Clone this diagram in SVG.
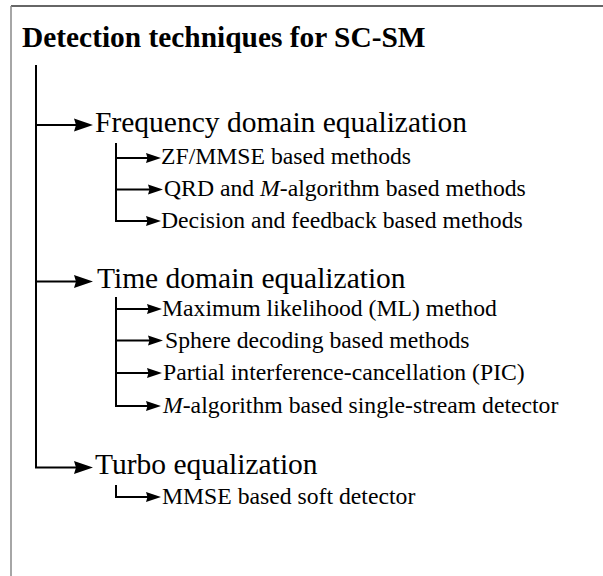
<svg xmlns="http://www.w3.org/2000/svg" width="603" height="576" viewBox="0 0 603 576">
  <style>
    text { font-family: "Liberation Serif", "Times New Roman", serif; fill: #000; }
    .title { font-weight: bold; font-size: 29.4px; }
    .main { font-size: 29.5px; }
    .sub { font-size: 23.7px; }
    .it { font-style: italic; }
    .wire { fill: none; stroke: #000; stroke-width: 2; }
    .head { fill: #000; stroke: none; }
  </style>

  <rect width="603" height="576" fill="#fff"/>

  <!-- frame -->
  <g id="frame">
    <line x1="11" y1="6" x2="603" y2="6" stroke="#333" stroke-width="1.5"/>
    <line x1="11" y1="6" x2="11" y2="576" stroke="#888" stroke-width="1.5"/>
  </g>

  <!-- connectors: wires plus filled arrowheads -->
  <g id="connectors">
    <g class="wire">
      <path d="M36,65 V467.5 H78"/>
      <path d="M36,125 H78"/>
      <path d="M36,281.5 H78"/>
      <path d="M116,143 V221 H148"/>
      <path d="M116,158 H148"/>
      <path d="M116,189.5 H150"/>
      <path d="M116,297 V406 H148"/>
      <path d="M116,309 H149"/>
      <path d="M116,340.5 H150"/>
      <path d="M116,373 H149"/>
      <path d="M116,485 V497 H148"/>
    </g>
    <g class="head">
      <path d="M93,125 l-19,-6.5 l2,6.5 l-2,6.5 Z"/>
      <path d="M93,281.5 l-19,-6.5 l2,6.5 l-2,6.5 Z"/>
      <path d="M93,467.5 l-19,-6.5 l2,6.5 l-2,6.5 Z"/>
      <path d="M161,158 l-15,-5 l1.5,5 l-1.5,5 Z"/>
      <path d="M163,189.5 l-15,-5 l1.5,5 l-1.5,5 Z"/>
      <path d="M161,221 l-15,-5 l1.5,5 l-1.5,5 Z"/>
      <path d="M162,309 l-15,-5 l1.5,5 l-1.5,5 Z"/>
      <path d="M163,340.5 l-15,-5 l1.5,5 l-1.5,5 Z"/>
      <path d="M162,373 l-15,-5 l1.5,5 l-1.5,5 Z"/>
      <path d="M161,406 l-15,-5 l1.5,5 l-1.5,5 Z"/>
      <path d="M161,497 l-15,-5 l1.5,5 l-1.5,5 Z"/>
    </g>
  </g>

  <g id="root"><text class="title" x="22" y="46.5">Detection techniques for SC-SM</text></g>

  <g id="fde"><text class="main" x="95" y="132">Frequency domain equalization</text></g>
  <g id="fde-zf"><text class="sub" x="161" y="164">ZF/MMSE based methods</text></g>
  <g id="fde-qrd"><text class="sub" x="164" y="195.5">QRD and <tspan class="it">M</tspan>-algorithm based methods</text></g>
  <g id="fde-dfe"><text class="sub" x="161" y="227.5">Decision and feedback based methods</text></g>

  <g id="tde"><text class="main" x="97" y="288">Time domain equalization</text></g>
  <g id="tde-ml"><text class="sub" x="162" y="316">Maximum likelihood (ML) method</text></g>
  <g id="tde-sd"><text class="sub" x="165" y="347.5">Sphere decoding based methods</text></g>
  <g id="tde-pic"><text class="sub" x="163" y="380">Partial interference-cancellation (PIC)</text></g>
  <g id="tde-ma"><text class="sub" x="163" y="412.5"><tspan class="it">M</tspan>-algorithm based single-stream detector</text></g>

  <g id="turbo"><text class="main" x="95" y="474">Turbo equalization</text></g>
  <g id="turbo-mmse"><text class="sub" x="162" y="503.5">MMSE based soft detector</text></g>
</svg>
